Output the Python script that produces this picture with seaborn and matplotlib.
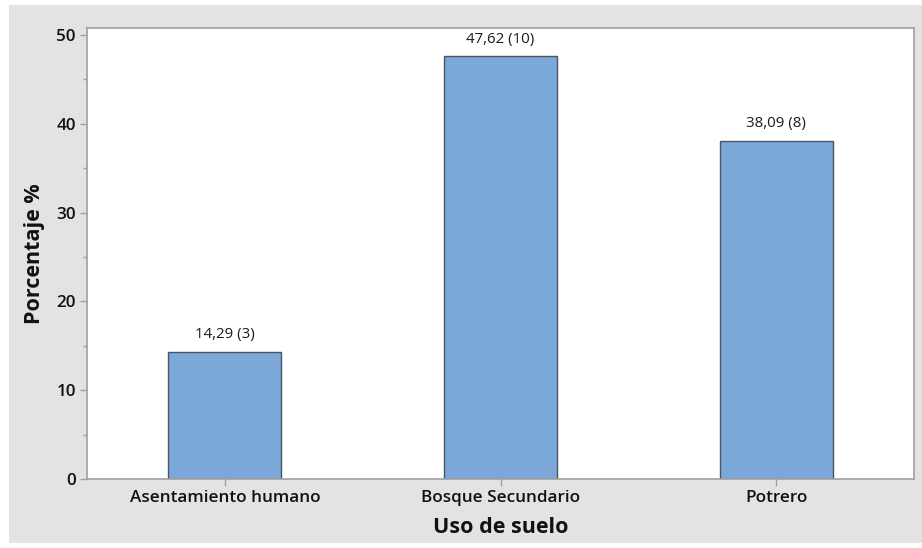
import matplotlib
matplotlib.use("Agg")
import matplotlib.pyplot as plt
import seaborn as sns
import pandas as pd
from matplotlib.patches import Rectangle
from matplotlib.ticker import MultipleLocator

categorias = ["Asentamiento humano", "Bosque Secundario", "Potrero"]
porcentajes = [14.29, 47.62, 38.09]
conteos = [3, 10, 8]
etiquetas = ["14,29 (3)", "47,62 (10)", "38,09 (8)"]

df = pd.DataFrame({"uso": categorias, "pct": porcentajes})

sns.set_theme(style="white")
plt.rcParams["font.family"] = ["Open Sans", "DejaVu Sans"]

fig = plt.figure(figsize=(9.22, 5.48), dpi=100)
fig.patch.set_facecolor("white")
# gray backdrop behind the plot region
fig.patches.append(Rectangle((9 / 922, 5 / 548), 913 / 922, 538 / 548,
                             transform=fig.transFigure, facecolor="#e3e3e3",
                             edgecolor="none", zorder=-10))

ax = fig.add_axes([87 / 922, 69 / 548, 827 / 922, 451 / 548])
ax.set_facecolor("white")

sns.barplot(data=df, x="uso", y="pct", ax=ax, color="#7ba7d9",
            edgecolor="#4a5563", linewidth=1.0, width=0.41, saturation=1)

for i, (v, t) in enumerate(zip(porcentajes, etiquetas)):
    ax.annotate(t, (i, v), xytext=(0, 7), textcoords="offset points",
                ha="center", va="bottom", fontsize=10.8, color="#1a1a1a")

ax.set_xlim(-0.5, 2.5)
ax.set_ylim(0, 50.8)
ax.yaxis.set_major_locator(MultipleLocator(10))
ax.yaxis.set_minor_locator(MultipleLocator(5))

for s in ax.spines.values():
    s.set_color("#a0a0a0")
    s.set_linewidth(1.2)

ax.tick_params(axis="both", which="major", length=5, width=1, color="#a0a0a0",
               labelsize=12.3, labelcolor="#111111", pad=3)
ax.tick_params(axis="y", which="minor", length=3, width=1, color="#a0a0a0", left=True)
ax.tick_params(left=True, bottom=True)
for lab in ax.get_xticklabels() + ax.get_yticklabels():
    lab.set_fontweight("semibold")

ax.set_xlabel("Uso de suelo", fontsize=15.5, fontweight="bold", color="#111111", labelpad=8)
ax.set_ylabel("Porcentaje %", fontsize=15.5, fontweight="bold", color="#111111", labelpad=8)

fig.savefig("out.png", dpi=100)
